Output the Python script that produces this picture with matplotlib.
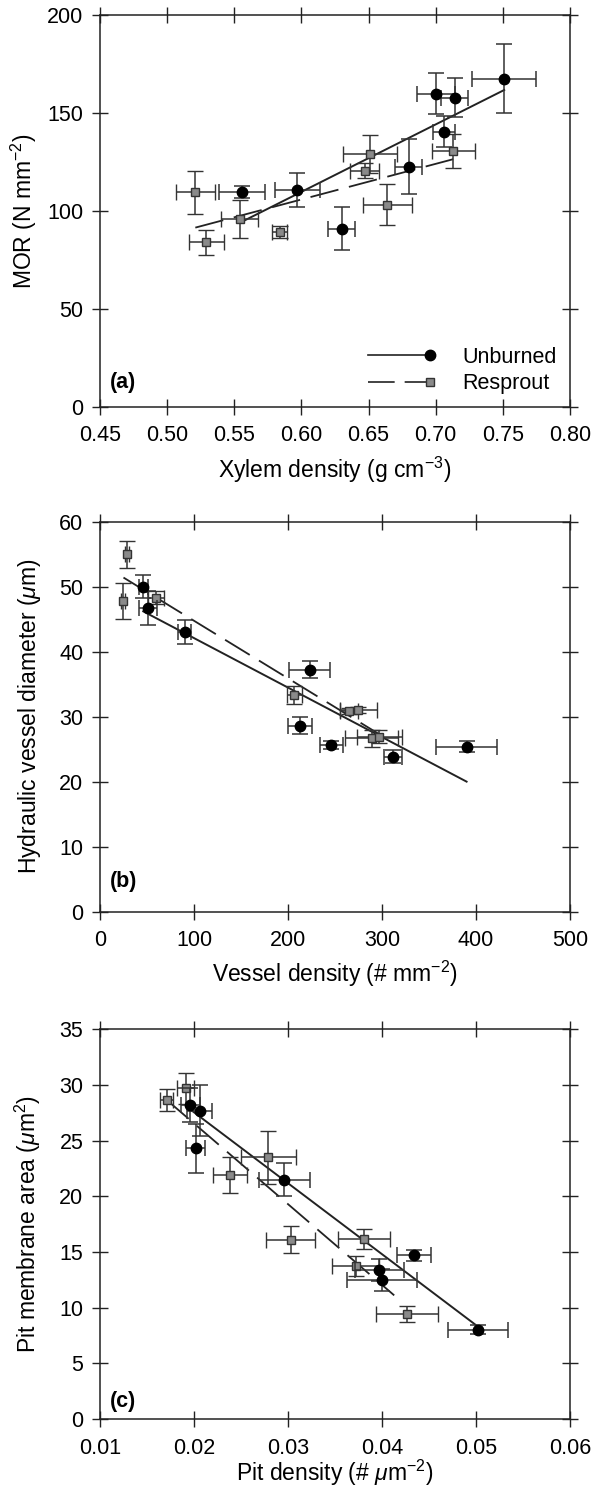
import matplotlib
matplotlib.use('Agg')
import matplotlib.pyplot as plt
from matplotlib.lines import Line2D
from matplotlib.legend_handler import HandlerLine2D

plt.rcParams['font.family'] = ['Liberation Sans', 'DejaVu Sans']
plt.rcParams['mathtext.fontset'] = 'custom'
plt.rcParams['mathtext.rm'] = 'Liberation Sans'
plt.rcParams['mathtext.it'] = 'Liberation Sans:italic'

# ---- panel (a): MOR vs xylem density ----
ub_a_x = [0.556, 0.597, 0.630, 0.680, 0.700, 0.714, 0.706, 0.751]
ub_a_y = [109.5, 110.7, 91.0, 122.6, 159.9, 157.8, 140.5, 167.5]
ub_a_xerr = [0.017, 0.017, 0.010, 0.010, 0.014, 0.010, 0.008, 0.024]
ub_a_yerr = [3.0, 8.5, 11.0, 14.0, 10.5, 10.0, 8.0, 17.7]
rs_a_x = [0.521, 0.529, 0.554, 0.584, 0.664, 0.651, 0.647, 0.713]
rs_a_y = [109.5, 84.0, 95.8, 89.1, 103.2, 129.1, 120.6, 130.6]
rs_a_xerr = [0.0145, 0.013, 0.014, 0.0056, 0.018, 0.020, 0.011, 0.016]
rs_a_yerr = [11.0, 6.4, 9.6, 3.0, 10.6, 9.7, 4.0, 8.5]
fit_ub_a_x = [0.556, 0.751]
fit_ub_a_y = [94.6, 161.7]
fit_rs_a_x = [0.521, 0.713]
fit_rs_a_y = [91.5, 126.4]

# ---- panel (b): hydraulic vessel diameter vs vessel density ----
ub_b_x = [46, 51, 90, 223, 213, 246, 312, 390]
ub_b_y = [50.0, 46.7, 43.0, 37.2, 28.6, 25.6, 23.8, 25.4]
ub_b_xerr = [5, 10, 7, 21.6, 12.8, 12, 9.7, 32.8]
ub_b_yerr = [1.8, 2.6, 1.9, 1.3, 1.3, 0.6, 1.0, 0.8]
rs_b_x = [28.4, 24.1, 59.6, 206.7, 265, 275, 289, 297]
rs_b_y = [55.0, 47.8, 48.3, 33.3, 30.9, 31.0, 26.7, 26.9]
rs_b_xerr = [2, 2, 8, 8, 10, 20, 28, 24]
rs_b_yerr = [2.1, 2.8, 1.0, 1.4, 0.5, 0.5, 1.3, 1.0]
fit_ub_b_x = [46, 390]
fit_ub_b_y = [46.2, 20.0]
fit_rs_b_x = [25, 297]
fit_rs_b_y = [51.4, 27.3]

# ---- panel (c): pit membrane area vs pit density ----
ub_c_x = [0.0196, 0.0206, 0.0202, 0.0296, 0.0434, 0.0397, 0.0400, 0.0502]
ub_c_y = [28.2, 27.7, 24.3, 21.5, 14.7, 13.4, 12.5, 8.0]
ub_c_xerr = [0.0010, 0.0013, 0.0010, 0.0027, 0.0018, 0.0026, 0.0037, 0.0032]
ub_c_yerr = [1.5, 2.3, 2.2, 1.5, 0.5, 1.0, 1.0, 0.4]
rs_c_x = [0.0171, 0.0191, 0.0238, 0.0279, 0.0303, 0.0381, 0.0372, 0.0427]
rs_c_y = [28.65, 29.7, 21.9, 23.5, 16.1, 16.2, 13.7, 9.4]
rs_c_xerr = [0.0007, 0.0009, 0.0018, 0.0029, 0.0026, 0.0028, 0.0025, 0.0033]
rs_c_yerr = [1.0, 1.4, 1.6, 2.4, 1.2, 0.9, 0.9, 0.7]
fit_ub_c_x = [0.0196, 0.0502]
fit_ub_c_y = [27.8, 8.3]
fit_rs_c_x = [0.0171, 0.0413]
fit_rs_c_y = [28.65, 11.1]

DASH = (0, (16, 6))
INK = '#222222'
FS_TICK = 15.5
FS_LABEL = 16.5


class EndMarkerHandler(HandlerLine2D):
    # legend line with the marker sitting on its right end
    def create_artists(self, *args, **kwargs):
        arts = super().create_artists(*args, **kwargs)
        arts[0].set_markevery([2])
        return arts


def draw_panel(ax, ub, rs, fit_ub, fit_rs, xlim, ylim, xticks, yticks,
               xfmt, xlabel, ylabel, tag, tag_y, xpad, xlabelpad, ylabelpad):
    ax.plot(fit_ub[0], fit_ub[1], color=INK, lw=1.4, zorder=2)
    ax.plot(fit_rs[0], fit_rs[1], color=INK, lw=1.3, ls=DASH, zorder=2)
    ax.errorbar(rs[0], rs[1], xerr=rs[2], yerr=rs[3], fmt='s', ms=6,
                mfc='#8a8a8a', mec='#333333', mew=1.0, ecolor='#333333',
                elinewidth=1.1, capsize=6, capthick=1.1, zorder=3)
    ax.errorbar(ub[0], ub[1], xerr=ub[2], yerr=ub[3], fmt='o', ms=7.5,
                mfc='black', mec='black', ecolor='#333333',
                elinewidth=1.1, capsize=6, capthick=1.1, zorder=4)
    ax.set_xlim(*xlim)
    ax.set_ylim(*ylim)
    ax.set_xticks(xticks)
    ax.set_yticks(yticks)
    ax.set_xticklabels([xfmt.format(v) for v in xticks])
    ax.tick_params(direction='inout', length=12, width=1.0, color=INK,
                   labelsize=FS_TICK, top=True, right=True)
    ax.tick_params(axis='x', pad=xpad)
    ax.tick_params(axis='y', pad=6)
    for sp in ax.spines.values():
        sp.set_linewidth(1.1)
        sp.set_color(INK)
    ax.set_xlabel(xlabel, fontsize=FS_LABEL, labelpad=xlabelpad)
    ax.set_ylabel(ylabel, fontsize=FS_LABEL, labelpad=ylabelpad)
    ax.text(0.02, tag_y, tag, transform=ax.transAxes, fontsize=FS_TICK,
            fontweight='bold', ha='left', va='center')


fig = plt.figure(figsize=(5.93, 14.93), dpi=100)
left, width = 0.1686, 0.7926
ax_a = fig.add_axes([left, 0.7274, width, 0.2626])
ax_b = fig.add_axes([left, 0.3894, width, 0.2612])
ax_c = fig.add_axes([left, 0.0496, width, 0.2610])

draw_panel(ax_a, (ub_a_x, ub_a_y, ub_a_xerr, ub_a_yerr),
           (rs_a_x, rs_a_y, rs_a_xerr, rs_a_yerr),
           (fit_ub_a_x, fit_ub_a_y), (fit_rs_a_x, fit_rs_a_y),
           (0.45, 0.80), (0, 200),
           [0.45, 0.50, 0.55, 0.60, 0.65, 0.70, 0.75, 0.80],
           [0, 50, 100, 150, 200], '{:.2f}',
           r'Xylem density (g cm$^{-3}$)', r'MOR (N mm$^{-2}$)',
           '(a)', 0.062, 7, 6, 6)

draw_panel(ax_b, (ub_b_x, ub_b_y, ub_b_xerr, ub_b_yerr),
           (rs_b_x, rs_b_y, rs_b_xerr, rs_b_yerr),
           (fit_ub_b_x, fit_ub_b_y), (fit_rs_b_x, fit_rs_b_y),
           (0, 500), (0, 60),
           [0, 100, 200, 300, 400, 500],
           [0, 10, 20, 30, 40, 50, 60], '{:d}',
           r'Vessel density (# mm$^{-2}$)',
           r'Hydraulic vessel diameter ($\mu$m)',
           '(b)', 0.076, 7, 6, 12)

draw_panel(ax_c, (ub_c_x, ub_c_y, ub_c_xerr, ub_c_yerr),
           (rs_c_x, rs_c_y, rs_c_xerr, rs_c_yerr),
           (fit_ub_c_x, fit_ub_c_y), (fit_rs_c_x, fit_rs_c_y),
           (0.01, 0.06), (0, 35),
           [0.01, 0.02, 0.03, 0.04, 0.05, 0.06],
           [0, 5, 10, 15, 20, 25, 30, 35], '{:.2f}',
           r'Pit density (# $\mu$m$^{-2}$)',
           r'Pit membrane area ($\mu$m$^2$)',
           '(c)', 0.044, 8, -1, 12)

h_ub = Line2D([], [], color=INK, lw=1.2, marker='o', ms=7.5,
              mfc='black', mec='black')
h_rs = Line2D([], [], color=INK, lw=1.2, ls=DASH, marker='s', ms=6,
              mfc='#8a8a8a', mec='#333333')
ax_a.legend([h_ub, h_rs], ['Unburned', 'Resprout'], loc='lower right',
            frameon=False, fontsize=FS_TICK, numpoints=1,
            handlelength=2.9, handletextpad=1.5, labelspacing=0.25,
            borderaxespad=0.2,
            handler_map={Line2D: EndMarkerHandler(numpoints=1)})

fig.savefig('out.png', dpi=100)
